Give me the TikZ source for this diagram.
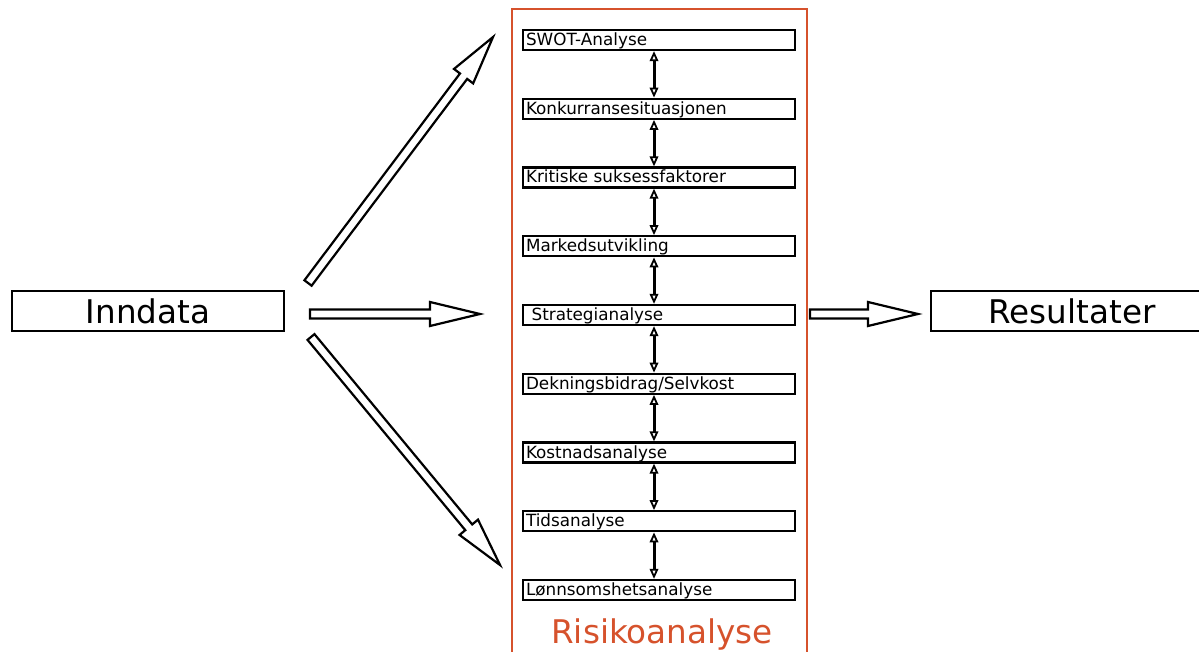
\documentclass[tikz,border=0pt]{standalone}
\usepackage{fontspec}
\setmainfont{DejaVu Sans}
\usetikzlibrary{arrows.meta,calc}
\definecolor{riskred}{RGB}{214,82,44}

% hollow block arrow: #1 tail coordinate, #2 angle, #3 length, #4 head length
\newcommand{\hollowarrow}[4]{%
  \draw[blockarrow, shift={(#1)}, rotate=#2]
    (0,-4.5) -- ({#3-#4},-4.5) -- ({#3-#4},-12) -- (#3,0)
    -- ({#3-#4},12) -- ({#3-#4},4.5) -- (0,4.5) -- cycle;}

\begin{document}
\begin{tikzpicture}[x=1pt,y=1pt,
  stepbox/.style={draw, line width=2.2pt, minimum width=272pt, minimum height=20pt,
    text width=266pt, inner xsep=3pt, inner ysep=0pt, text height=14pt, text depth=3pt,
    align=left, font=\fontsize{16.8}{18}\selectfont},
  bigbox/.style={draw, line width=2.2pt, minimum height=40pt, inner sep=0pt,
    font=\fontsize{32.6}{36}\selectfont},
  link/.style={line width=3pt,
    {Triangle[open, length=10pt, width=8.5pt, line width=1.8pt]}-{Triangle[open, length=10pt, width=8.5pt, line width=1.8pt]}},
  blockarrow/.style={draw, line width=2.2pt, fill=white, line join=miter}]

\useasboundingbox (0,0) rectangle (1199,651);

% frame of the risk analysis block
\draw[riskred, line width=2.6pt] (512,-20) -- (512,642) -- (807,642) -- (807,-20);
\node[riskred, anchor=base, font=\fontsize{32.6}{38}\selectfont] (risk) at (662,8) {Risikoanalyse};

% analysis steps
\node[stepbox] (s1) at (659,611)    {SWOT-Analyse};
\node[stepbox] (s2) at (659,542.25) {Konkurransesituasjonen};
\node[stepbox] (s3) at (659,473.5)  {Kritiske suksessfaktorer};
\node[stepbox] (s4) at (659,404.75) {Markedsutvikling};
\node[stepbox] (s5) at (659,336)    {\ Strategianalyse};
\node[stepbox] (s6) at (659,267.25) {Dekningsbidrag/Selvkost};
\node[stepbox] (s7) at (659,198.5)  {Kostnadsanalyse};
\node[stepbox] (s8) at (659,129.75) {Tidsanalyse};
\node[stepbox] (s9) at (659,61)     {Lønnsomshetsanalyse};

\foreach \a/\b in {s1/s2,s2/s3,s3/s4,s4/s5,s5/s6,s6/s7,s7/s8,s8/s9}
  \draw[link] ([xshift=-5pt]\a.south) -- ([xshift=-5pt]\b.north);

% input and output
\node[bigbox, minimum width=272pt] (inn) at (148,340) {Inndata};
\node[bigbox, minimum width=282pt] (res) at (1072,340) {Resultater};

% block arrows
\coordinate (upTail)  at (308,368);
\coordinate (midTail) at (310,337);
\coordinate (lowTail) at (311,314);
\coordinate (outTail) at (810,337);
\hollowarrow{upTail}{53.05}{307.8}{49}
\hollowarrow{midTail}{0}{170}{50}
\hollowarrow{lowTail}{-50.34}{296.2}{49}
\hollowarrow{outTail}{0}{108}{50}

\end{tikzpicture}
\end{document}
